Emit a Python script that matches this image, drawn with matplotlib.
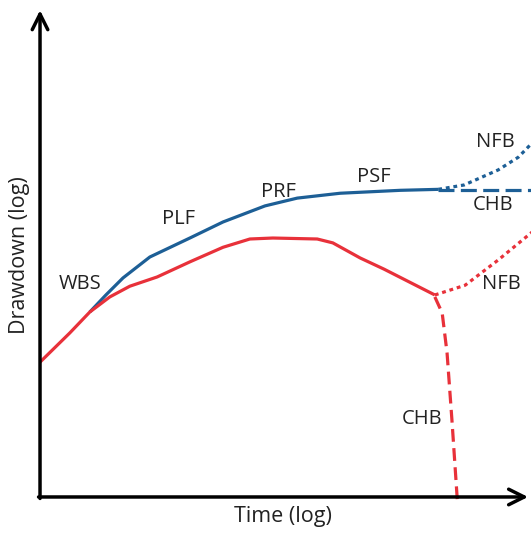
import numpy as np
import matplotlib
matplotlib.use("Agg")
import matplotlib.pyplot as plt

plt.rcParams['font.family'] = ['Open Sans', 'DejaVu Sans']

BLUE = '#1d5f96'
RED = '#e8313a'

# log-time / log-drawdown in arbitrary diagnostic-plot units
# red curve (derivative) - infinite acting part
red_t = [0.0, 0.61, 1.02, 1.43, 1.84, 2.40, 3.07, 3.75, 4.30, 4.77, 5.68, 6.00, 6.56, 7.05, 8.09]
red_s = [2.77, 3.37, 3.80, 4.11, 4.33, 4.52, 4.83, 5.13, 5.30, 5.32, 5.30, 5.22, 4.91, 4.68, 4.15]
# red late time: no-flow and constant-head boundaries
red_nfb_t = [8.09, 8.71, 9.39, 10.08]
red_nfb_s = [4.15, 4.35, 4.87, 5.44]
red_chb_t = [8.09, 8.24, 8.34, 8.44, 8.55]
red_chb_s = [4.11, 3.78, 2.96, 1.58, -0.06]

# blue curve (drawdown), leaves the red one after wellbore storage
blue_t = [1.02, 1.35, 1.70, 2.25, 3.07, 3.75, 4.61, 5.27, 6.15, 7.38, 8.16]
blue_s = [3.80, 4.15, 4.50, 4.93, 5.32, 5.65, 5.98, 6.14, 6.24, 6.30, 6.32]
blue_nfb_t = [8.16, 8.69, 9.39, 9.80, 10.08]
blue_nfb_s = [6.32, 6.41, 6.72, 6.98, 7.27]
blue_chb_t = [8.16, 10.2]
blue_chb_s = [6.30, 6.30]

# flow regime labels
labels = ['WBS', 'PLF', 'PRF', 'PSF', 'NFB', 'CHB', 'NFB', 'CHB']
label_t = [0.82, 2.83, 4.88, 6.84, 9.34, 9.28, 9.45, 7.83]
label_s = [4.37, 5.71, 6.26, 6.57, 7.29, 6.00, 4.37, 1.60]

fig = plt.figure(figsize=(5.31, 5.33), dpi=100)
ax = fig.add_axes([0, 0, 1, 1])
ax.set_xlim(-0.82, 10.06)
ax.set_ylim(-0.74, 10.21)
ax.axis('off')

lw = 2.3
ax.plot(blue_t, blue_s, color=BLUE, lw=lw, solid_capstyle='butt', solid_joinstyle='round')
ax.plot(blue_nfb_t, blue_nfb_s, color=BLUE, lw=lw, linestyle=(0, (1.2, 1.2)))
ax.plot(blue_chb_t, blue_chb_s, color=BLUE, lw=lw, linestyle=(0, (5, 2)))
ax.plot(red_t, red_s, color=RED, lw=lw, solid_capstyle='butt', solid_joinstyle='round')
ax.plot(red_nfb_t, red_nfb_s, color=RED, lw=lw, linestyle=(0, (1.2, 1.2)))
ax.plot(red_chb_t, red_chb_s, color=RED, lw=lw, linestyle=(0, (4, 2)))

for txt, t, s in zip(labels, label_t, label_s):
    ax.text(t, s, txt, fontsize=14.5, ha='center', va='center', color='#222222')

# axes with open arrow heads
arrow = dict(arrowstyle='->', lw=2.5, color='black', mutation_scale=28,
             shrinkA=0, shrinkB=0)
ax.annotate('', xy=(0, 10.0), xytext=(0, -0.03), arrowprops=arrow)
ax.annotate('', xy=(10.0, 0), xytext=(-0.03, 0), arrowprops=arrow)

ax.text(4.98, -0.41, 'Time (log)', fontsize=15.5, ha='center', va='center', color='#222222')
ax.text(-0.43, 4.97, 'Drawdown (log)', fontsize=15.5, ha='center', va='center',
        rotation=90, color='#222222')

fig.savefig('out.png', dpi=100)
